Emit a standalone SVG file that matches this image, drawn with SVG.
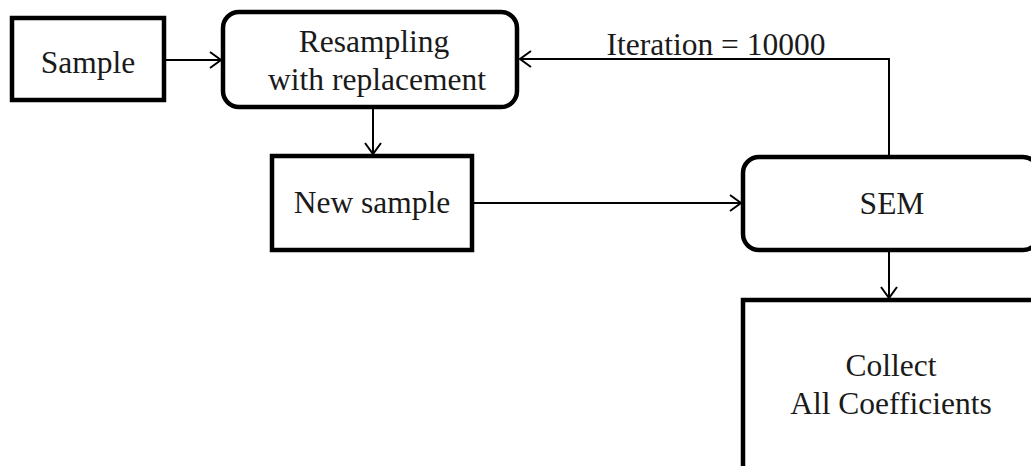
<svg xmlns="http://www.w3.org/2000/svg" width="1031" height="466" viewBox="0 0 1031 466">
<style>
.box{fill:#fff;stroke:#000;stroke-width:4.5}
.t{font-family:"Liberation Serif","Times New Roman",serif;font-size:31.5px;fill:#1a1a1a;text-anchor:middle}
.c{fill:none;stroke:#000;stroke-width:2}
</style>
<defs>
<marker id="ah" markerUnits="userSpaceOnUse" markerWidth="20" markerHeight="20" refX="14" refY="10" orient="auto">
<path d="M3,2 L14,10 L3,18" fill="none" stroke="#000" stroke-width="2"/>
</marker>
</defs>
<rect width="1031" height="466" fill="#fff"/>
<g id="connectors">
<line class="c" x1="165" y1="60" x2="221" y2="60" marker-end="url(#ah)"/>
<line class="c" x1="373" y1="108" x2="373" y2="154" marker-end="url(#ah)"/>
<line class="c" x1="474" y1="203" x2="741" y2="203" marker-end="url(#ah)"/>
<polyline class="c" points="889,157 889,59 520,59" marker-end="url(#ah)"/>
<line class="c" x1="889" y1="251" x2="889" y2="298" marker-end="url(#ah)"/>
<text class="t" x="716" y="55">Iteration = 10000</text>
</g>
<g id="sample">
<rect class="box" x="12" y="18" width="152" height="82"/>
<text class="t" x="88" y="73">Sample</text>
</g>
<g id="resampling">
<rect class="box" x="223" y="12" width="294" height="95" rx="16"/>
<text class="t" x="374" y="52">Resampling</text>
<text class="t" x="377" y="90">with replacement</text>
</g>
<g id="newsample">
<rect class="box" x="272" y="156" width="200" height="94"/>
<text class="t" x="372" y="213">New sample</text>
</g>
<g id="sem">
<rect class="box" x="743" y="157" width="296" height="93" rx="16"/>
<text class="t" x="892" y="214">SEM</text>
</g>
<g id="collect">
<rect class="box" x="743" y="300" width="296" height="172"/>
<text class="t" x="891" y="376">Collect</text>
<text class="t" x="891" y="414">All Coefficients</text>
</g>
</svg>
